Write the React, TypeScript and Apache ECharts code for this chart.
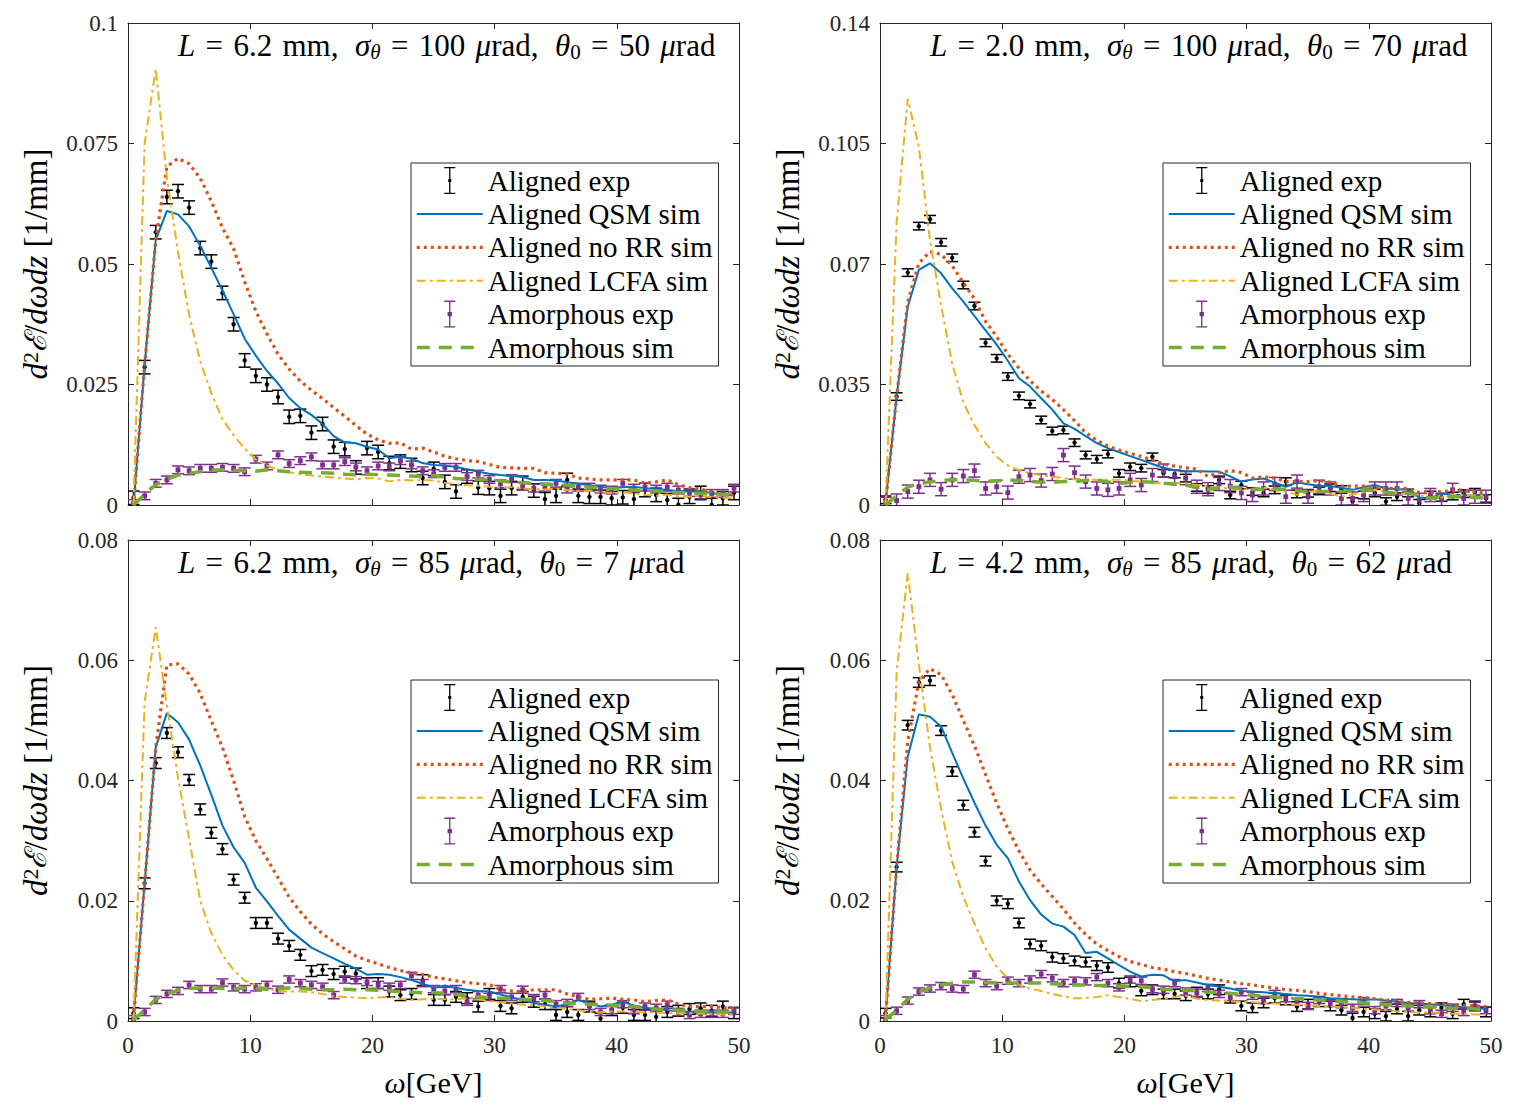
import React, { useEffect, useRef } from 'react';
import * as echarts from 'echarts';

// photon energy bin centres (GeV), shared by every series
const OMEGA = [
  0.45, 1.36, 2.27, 3.18, 4.09, 5.0, 5.91, 6.82, 7.73, 8.64,
  9.55, 10.46, 11.37, 12.28, 13.19, 14.1, 15.01, 15.92, 16.83, 17.74,
  18.65, 19.56, 20.47, 21.38, 22.29, 23.2, 24.11, 25.02, 25.93, 26.84,
  27.75, 28.66, 29.57, 30.48, 31.39, 32.3, 33.21, 34.12, 35.03, 35.94,
  36.85, 37.76, 38.67, 39.58, 40.49, 41.4, 42.31, 43.22, 44.13, 45.04,
  45.95, 46.86, 47.77, 48.68, 49.59,
];

const SERIES_NAMES = ['Aligned exp', 'Aligned QSM sim', 'Aligned no RR sim', 'Aligned LCFA sim', 'Amorphous exp', 'Amorphous sim'];
const X_TICKS = [0, 10, 20, 30, 40, 50];

// ---------- panel 1 (top left) ----------
const P1_ALIGNED_EXP = [
  0.0015, 0.0286, 0.0566, 0.0639, 0.0651, 0.0617, 0.0533, 0.0505, 0.0440, 0.0375,
  0.0300, 0.0268, 0.0250, 0.0224, 0.0183, 0.0185, 0.0150, 0.0168, 0.0121, 0.0116,
  0.0078, 0.0118, 0.0110, 0.0087, 0.0090, 0.0083, 0.0056, 0.0075, 0.0048, 0.0028,
  0.0059, 0.0036, 0.0035, 0.0019, 0.0035, 0.0046, 0.0030, 0.0012, 0.0019, 0.0052,
  0.0019, 0.0017, 0.0017, 0.0014, 0.0016, 0.0012, 0.0031, 0.0021, 0.0010, 0.0000,
  0.0017, 0.0025, 0.0000, 0.0014, 0.0025,
];
const P1_AMORPH_EXP = [
  0.0003, 0.0019, 0.0045, 0.0052, 0.0073, 0.0071, 0.0076, 0.0076, 0.0078, 0.0076,
  0.0069, 0.0095, 0.0081, 0.0104, 0.0086, 0.0092, 0.0100, 0.0083, 0.0083, 0.0090,
  0.0079, 0.0071, 0.0081, 0.0079, 0.0092, 0.0083, 0.0071, 0.0065, 0.0078, 0.0078,
  0.0059, 0.0064, 0.0053, 0.0044, 0.0055, 0.0039, 0.0035, 0.0037, 0.0045, 0.0033,
  0.0037, 0.0037, 0.0033, 0.0031, 0.0045, 0.0035, 0.0037, 0.0033, 0.0037, 0.0031,
  0.0026, 0.0021, 0.0024, 0.0024, 0.0035,
];
const P1_QSM = [
  0.0000, 0.0290, 0.0550, 0.0610, 0.0603, 0.0578, 0.0538, 0.0492, 0.0445, 0.0396,
  0.0345, 0.0310, 0.0278, 0.0252, 0.0222, 0.0201, 0.0187, 0.0168, 0.0143, 0.0130,
  0.0128, 0.0121, 0.0115, 0.0097, 0.0100, 0.0096, 0.0087, 0.0083, 0.0082, 0.0079,
  0.0074, 0.0069, 0.0065, 0.0062, 0.0060, 0.0058, 0.0052, 0.0052, 0.0051, 0.0047,
  0.0044, 0.0041, 0.0038, 0.0035, 0.0037, 0.0038, 0.0035, 0.0033, 0.0031, 0.0029,
  0.0028, 0.0028, 0.0025, 0.0021, 0.0021,
];
const P1_NO_RR = [
  0.0000, 0.0290, 0.0550, 0.0702, 0.0719, 0.0708, 0.0678, 0.0630, 0.0575, 0.0532,
  0.0463, 0.0402, 0.0355, 0.0313, 0.0282, 0.0257, 0.0238, 0.0221, 0.0202, 0.0184,
  0.0165, 0.0147, 0.0135, 0.0128, 0.0129, 0.0116, 0.0118, 0.0110, 0.0101, 0.0096,
  0.0092, 0.0090, 0.0084, 0.0078, 0.0077, 0.0076, 0.0076, 0.0067, 0.0066, 0.0064,
  0.0056, 0.0054, 0.0052, 0.0052, 0.0052, 0.0052, 0.0045, 0.0048, 0.0052, 0.0042,
  0.0036, 0.0033, 0.0027, 0.0021, 0.0021,
];
const P1_LCFA = [
  0.0000, 0.0750, 0.0905, 0.0680, 0.0525, 0.0395, 0.0298, 0.0232, 0.0178, 0.0145,
  0.0117, 0.0094, 0.0082, 0.0073, 0.0068, 0.0064, 0.0061, 0.0059, 0.0057, 0.0055,
  0.0053, 0.0056, 0.0055, 0.0049, 0.0052, 0.0051, 0.0052, 0.0051, 0.0046, 0.0043,
  0.0041, 0.0040, 0.0038, 0.0036, 0.0037, 0.0034, 0.0033, 0.0032, 0.0034, 0.0031,
  0.0029, 0.0030, 0.0027, 0.0025, 0.0026, 0.0024, 0.0021, 0.0019, 0.0022, 0.0018,
  0.0017, 0.0019, 0.0016, 0.0015, 0.0014,
];
const P1_AMORPH_SIM = [
  0.0000, 0.0022, 0.0042, 0.0053, 0.0062, 0.0066, 0.0069, 0.0072, 0.0073, 0.0072,
  0.0071, 0.0070, 0.0073, 0.0071, 0.0069, 0.0068, 0.0067, 0.0067, 0.0066, 0.0064,
  0.0063, 0.0064, 0.0063, 0.0062, 0.0061, 0.0060, 0.0059, 0.0061, 0.0058, 0.0055,
  0.0054, 0.0053, 0.0052, 0.0050, 0.0048, 0.0046, 0.0045, 0.0043, 0.0042, 0.0041,
  0.0039, 0.0037, 0.0035, 0.0034, 0.0032, 0.0031, 0.0030, 0.0029, 0.0028, 0.0026,
  0.0025, 0.0024, 0.0023, 0.0022, 0.0021,
];

// ---------- panel 2 (top right) ----------
const P2_ALIGNED_EXP = [
  0.0015, 0.0315, 0.0675, 0.0810, 0.0830, 0.0763, 0.0718, 0.0639, 0.0578, 0.0471,
  0.0426, 0.0373, 0.0317, 0.0293, 0.0247, 0.0215, 0.0218, 0.0181, 0.0145, 0.0133,
  0.0148, 0.0092, 0.0111, 0.0107, 0.0140, 0.0092, 0.0090, 0.0078, 0.0051, 0.0045,
  0.0073, 0.0029, 0.0058, 0.0039, 0.0035, 0.0044, 0.0068, 0.0032, 0.0034, 0.0041,
  0.0050, 0.0045, 0.0010, 0.0029, 0.0035, 0.0010, 0.0024, 0.0035, 0.0005, 0.0029,
  0.0022, 0.0026, 0.0033, 0.0037, 0.0019,
];
const P2_AMORPH_EXP = [
  0.0003, 0.0013, 0.0039, 0.0053, 0.0073, 0.0046, 0.0073, 0.0084, 0.0100, 0.0048,
  0.0053, 0.0036, 0.0082, 0.0087, 0.0071, 0.0090, 0.0145, 0.0094, 0.0068, 0.0048,
  0.0044, 0.0048, 0.0073, 0.0058, 0.0087, 0.0100, 0.0082, 0.0078, 0.0053, 0.0046,
  0.0061, 0.0055, 0.0035, 0.0029, 0.0048, 0.0061, 0.0024, 0.0068, 0.0024, 0.0053,
  0.0048, 0.0019, 0.0019, 0.0029, 0.0048, 0.0048, 0.0048, 0.0019, 0.0015, 0.0029,
  0.0015, 0.0044, 0.0019, 0.0024, 0.0024,
];
const P2_QSM = [
  0.0005, 0.0315, 0.0576, 0.0683, 0.0702, 0.0673, 0.0629, 0.0591, 0.0549, 0.0507,
  0.0466, 0.0419, 0.0368, 0.0344, 0.0310, 0.0277, 0.0237, 0.0221, 0.0200, 0.0180,
  0.0165, 0.0154, 0.0142, 0.0131, 0.0119, 0.0108, 0.0101, 0.0098, 0.0098, 0.0097,
  0.0097, 0.0083, 0.0068, 0.0074, 0.0077, 0.0065, 0.0053, 0.0066, 0.0060, 0.0056,
  0.0055, 0.0050, 0.0044, 0.0052, 0.0058, 0.0048, 0.0046, 0.0044, 0.0022, 0.0019,
  0.0034, 0.0030, 0.0029, 0.0029, 0.0029,
];
const P2_NO_RR = [
  0.0005, 0.0315, 0.0590, 0.0702, 0.0736, 0.0728, 0.0695, 0.0645, 0.0600, 0.0533,
  0.0489, 0.0438, 0.0397, 0.0361, 0.0331, 0.0307, 0.0277, 0.0245, 0.0210, 0.0188,
  0.0171, 0.0160, 0.0150, 0.0141, 0.0130, 0.0119, 0.0113, 0.0108, 0.0104, 0.0083,
  0.0094, 0.0100, 0.0094, 0.0078, 0.0082, 0.0078, 0.0068, 0.0068, 0.0068, 0.0071,
  0.0066, 0.0055, 0.0055, 0.0055, 0.0052, 0.0048, 0.0048, 0.0048, 0.0036, 0.0036,
  0.0039, 0.0042, 0.0044, 0.0038, 0.0034,
];
const P2_LCFA = [
  0.0000, 0.0820, 0.1180, 0.1040, 0.0770, 0.0580, 0.0410, 0.0298, 0.0232, 0.0180,
  0.0140, 0.0115, 0.0101, 0.0092, 0.0086, 0.0082, 0.0078, 0.0075, 0.0073, 0.0073,
  0.0073, 0.0073, 0.0071, 0.0067, 0.0064, 0.0063, 0.0063, 0.0063, 0.0058, 0.0054,
  0.0051, 0.0047, 0.0044, 0.0047, 0.0050, 0.0045, 0.0039, 0.0030, 0.0037, 0.0043,
  0.0033, 0.0024, 0.0031, 0.0037, 0.0044, 0.0039, 0.0034, 0.0031, 0.0029, 0.0018,
  0.0022, 0.0029, 0.0029, 0.0028, 0.0027,
];
const P2_AMORPH_SIM = [
  0.0000, 0.0027, 0.0052, 0.0062, 0.0067, 0.0071, 0.0073, 0.0073, 0.0072, 0.0069,
  0.0070, 0.0072, 0.0072, 0.0069, 0.0066, 0.0066, 0.0068, 0.0068, 0.0071, 0.0073,
  0.0067, 0.0063, 0.0065, 0.0068, 0.0066, 0.0063, 0.0060, 0.0058, 0.0050, 0.0045,
  0.0050, 0.0053, 0.0048, 0.0044, 0.0046, 0.0048, 0.0045, 0.0041, 0.0039, 0.0039,
  0.0039, 0.0039, 0.0041, 0.0044, 0.0041, 0.0037, 0.0034, 0.0034, 0.0027, 0.0020,
  0.0023, 0.0024, 0.0024, 0.0022, 0.0020,
];

// ---------- panel 3 (bottom left) ----------
const P3_ALIGNED_EXP = [
  0.0013, 0.0229, 0.0429, 0.0479, 0.0447, 0.0401, 0.0352, 0.0313, 0.0286, 0.0235,
  0.0205, 0.0163, 0.0163, 0.0137, 0.0125, 0.0110, 0.0083, 0.0085, 0.0078, 0.0082,
  0.0079, 0.0063, 0.0063, 0.0049, 0.0043, 0.0045, 0.0068, 0.0035, 0.0035, 0.0040,
  0.0038, 0.0024, 0.0045, 0.0025, 0.0021, 0.0040, 0.0032, 0.0028, 0.0010, 0.0015,
  0.0010, 0.0024, 0.0004, 0.0018, 0.0022, 0.0010, 0.0010, 0.0007, 0.0015, 0.0017,
  0.0020, 0.0021, 0.0017, 0.0024, 0.0013,
];
const P3_AMORPH_EXP = [
  0.0003, 0.0015, 0.0035, 0.0045, 0.0050, 0.0060, 0.0053, 0.0053, 0.0064, 0.0056,
  0.0053, 0.0056, 0.0060, 0.0052, 0.0069, 0.0063, 0.0060, 0.0057, 0.0043, 0.0069,
  0.0068, 0.0065, 0.0060, 0.0057, 0.0060, 0.0075, 0.0063, 0.0053, 0.0050, 0.0053,
  0.0032, 0.0043, 0.0040, 0.0053, 0.0040, 0.0052, 0.0038, 0.0043, 0.0028, 0.0030,
  0.0040, 0.0025, 0.0015, 0.0018, 0.0028, 0.0018, 0.0024, 0.0022, 0.0027, 0.0015,
  0.0010, 0.0012, 0.0012, 0.0012, 0.0017,
];
const P3_QSM = [
  0.0005, 0.0229, 0.0455, 0.0512, 0.0497, 0.0468, 0.0425, 0.0376, 0.0325, 0.0289,
  0.0263, 0.0222, 0.0199, 0.0175, 0.0152, 0.0137, 0.0122, 0.0113, 0.0104, 0.0095,
  0.0087, 0.0077, 0.0078, 0.0077, 0.0073, 0.0068, 0.0062, 0.0055, 0.0059, 0.0055,
  0.0052, 0.0050, 0.0049, 0.0044, 0.0039, 0.0035, 0.0030, 0.0027, 0.0024, 0.0028,
  0.0035, 0.0029, 0.0024, 0.0027, 0.0032, 0.0026, 0.0022, 0.0020, 0.0018, 0.0016,
  0.0014, 0.0014, 0.0014, 0.0014, 0.0014,
];
const P3_NO_RR = [
  0.0005, 0.0229, 0.0455, 0.0592, 0.0594, 0.0577, 0.0545, 0.0499, 0.0455, 0.0400,
  0.0340, 0.0300, 0.0270, 0.0238, 0.0206, 0.0182, 0.0161, 0.0145, 0.0132, 0.0120,
  0.0108, 0.0101, 0.0095, 0.0089, 0.0084, 0.0080, 0.0077, 0.0073, 0.0070, 0.0067,
  0.0064, 0.0062, 0.0061, 0.0052, 0.0050, 0.0049, 0.0052, 0.0052, 0.0052, 0.0045,
  0.0040, 0.0036, 0.0037, 0.0038, 0.0036, 0.0035, 0.0032, 0.0034, 0.0035, 0.0028,
  0.0024, 0.0024, 0.0024, 0.0022, 0.0021,
];
const P3_LCFA = [
  0.0000, 0.0530, 0.0655, 0.0525, 0.0405, 0.0303, 0.0200, 0.0146, 0.0110, 0.0085,
  0.0067, 0.0060, 0.0054, 0.0050, 0.0049, 0.0049, 0.0048, 0.0045, 0.0041, 0.0040,
  0.0039, 0.0038, 0.0039, 0.0040, 0.0037, 0.0035, 0.0036, 0.0037, 0.0036, 0.0036,
  0.0038, 0.0036, 0.0033, 0.0031, 0.0029, 0.0027, 0.0026, 0.0024, 0.0022, 0.0020,
  0.0018, 0.0015, 0.0014, 0.0016, 0.0016, 0.0015, 0.0014, 0.0014, 0.0013, 0.0013,
  0.0013, 0.0012, 0.0012, 0.0011, 0.0011,
];
const P3_AMORPH_SIM = [
  0.0002, 0.0018, 0.0036, 0.0045, 0.0051, 0.0054, 0.0055, 0.0055, 0.0054, 0.0054,
  0.0055, 0.0054, 0.0053, 0.0054, 0.0055, 0.0054, 0.0053, 0.0052, 0.0052, 0.0053,
  0.0052, 0.0052, 0.0051, 0.0050, 0.0049, 0.0048, 0.0047, 0.0047, 0.0046, 0.0044,
  0.0041, 0.0040, 0.0039, 0.0038, 0.0037, 0.0036, 0.0035, 0.0034, 0.0032, 0.0030,
  0.0029, 0.0028, 0.0027, 0.0026, 0.0025, 0.0024, 0.0022, 0.0020, 0.0019, 0.0018,
  0.0017, 0.0016, 0.0016, 0.0015, 0.0015,
];

// ---------- panel 4 (bottom right) ----------
const P4_ALIGNED_EXP = [
  0.0013, 0.0256, 0.0492, 0.0563, 0.0566, 0.0483, 0.0415, 0.0359, 0.0314, 0.0266,
  0.0200, 0.0195, 0.0163, 0.0128, 0.0125, 0.0106, 0.0104, 0.0100, 0.0098, 0.0092,
  0.0089, 0.0063, 0.0065, 0.0050, 0.0052, 0.0045, 0.0045, 0.0042, 0.0048, 0.0045,
  0.0052, 0.0038, 0.0025, 0.0022, 0.0030, 0.0038, 0.0035, 0.0024, 0.0028, 0.0032,
  0.0025, 0.0018, 0.0005, 0.0015, 0.0012, 0.0008, 0.0020, 0.0008, 0.0018, 0.0015,
  0.0022, 0.0012, 0.0028, 0.0025, 0.0015,
];
const P4_AMORPH_EXP = [
  0.0003, 0.0017, 0.0034, 0.0049, 0.0054, 0.0058, 0.0054, 0.0053, 0.0077, 0.0063,
  0.0058, 0.0067, 0.0063, 0.0069, 0.0078, 0.0071, 0.0063, 0.0067, 0.0066, 0.0073,
  0.0063, 0.0056, 0.0069, 0.0067, 0.0053, 0.0052, 0.0063, 0.0049, 0.0047, 0.0055,
  0.0045, 0.0040, 0.0048, 0.0042, 0.0035, 0.0045, 0.0038, 0.0032, 0.0025, 0.0035,
  0.0030, 0.0028, 0.0022, 0.0033, 0.0018, 0.0025, 0.0030, 0.0022, 0.0028, 0.0018,
  0.0012, 0.0022, 0.0015, 0.0025, 0.0018,
];
const P4_QSM = [
  0.0005, 0.0256, 0.0440, 0.0510, 0.0506, 0.0490, 0.0446, 0.0403, 0.0363, 0.0325,
  0.0293, 0.0271, 0.0232, 0.0201, 0.0177, 0.0162, 0.0157, 0.0143, 0.0113, 0.0115,
  0.0104, 0.0093, 0.0082, 0.0074, 0.0077, 0.0076, 0.0066, 0.0068, 0.0064, 0.0060,
  0.0057, 0.0054, 0.0050, 0.0049, 0.0048, 0.0046, 0.0045, 0.0043, 0.0042, 0.0040,
  0.0038, 0.0037, 0.0036, 0.0035, 0.0036, 0.0034, 0.0032, 0.0030, 0.0029, 0.0028,
  0.0026, 0.0025, 0.0023, 0.0022, 0.0020,
];
const P4_NO_RR = [
  0.0005, 0.0256, 0.0465, 0.0565, 0.0586, 0.0576, 0.0543, 0.0500, 0.0458, 0.0410,
  0.0362, 0.0320, 0.0283, 0.0251, 0.0228, 0.0207, 0.0186, 0.0163, 0.0144, 0.0128,
  0.0117, 0.0107, 0.0099, 0.0094, 0.0089, 0.0086, 0.0082, 0.0079, 0.0075, 0.0071,
  0.0068, 0.0065, 0.0062, 0.0060, 0.0057, 0.0055, 0.0052, 0.0051, 0.0049, 0.0046,
  0.0044, 0.0042, 0.0040, 0.0039, 0.0037, 0.0035, 0.0033, 0.0031, 0.0030, 0.0029,
  0.0028, 0.0027, 0.0026, 0.0025, 0.0024,
];
const P4_LCFA = [
  0.0000, 0.0580, 0.0745, 0.0593, 0.0455, 0.0353, 0.0265, 0.0206, 0.0162, 0.0121,
  0.0090, 0.0071, 0.0060, 0.0054, 0.0050, 0.0045, 0.0041, 0.0038, 0.0038, 0.0040,
  0.0043, 0.0040, 0.0037, 0.0033, 0.0035, 0.0037, 0.0040, 0.0042, 0.0037, 0.0035,
  0.0034, 0.0033, 0.0032, 0.0031, 0.0030, 0.0029, 0.0028, 0.0027, 0.0026, 0.0025,
  0.0024, 0.0023, 0.0022, 0.0020, 0.0019, 0.0018, 0.0016, 0.0015, 0.0014, 0.0014,
  0.0013, 0.0012, 0.0012, 0.0011, 0.0011,
];
const P4_AMORPH_SIM = [
  0.0002, 0.0018, 0.0036, 0.0048, 0.0055, 0.0060, 0.0063, 0.0065, 0.0065, 0.0064,
  0.0063, 0.0063, 0.0063, 0.0063, 0.0063, 0.0062, 0.0061, 0.0060, 0.0060, 0.0059,
  0.0059, 0.0058, 0.0058, 0.0057, 0.0055, 0.0053, 0.0052, 0.0051, 0.0050, 0.0048,
  0.0047, 0.0046, 0.0044, 0.0043, 0.0041, 0.0040, 0.0038, 0.0037, 0.0036, 0.0035,
  0.0033, 0.0032, 0.0031, 0.0030, 0.0029, 0.0027, 0.0026, 0.0025, 0.0024, 0.0023,
  0.0022, 0.0021, 0.0021, 0.0020, 0.0019,
];

// panel parameters (titles, axis ranges, error half-widths)
const PANEL_L = ['6.2', '2.0', '6.2', '4.2'];
const PANEL_SIGMA = ['100', '100', '85', '85'];
const PANEL_THETA0 = ['50', '70', '7', '62'];
const PANEL_YMAX = [0.1, 0.14, 0.08, 0.08];
const PANEL_YSTEP = [0.025, 0.035, 0.02, 0.02];
const ALIGNED_ERR = [0.0014, 0.0011, 0.0009, 0.0008];
const AMORPH_ERR = [0.0008, 0.0019, 0.0006, 0.0006];

const PANEL_DATA = [
  { alignedExp: P1_ALIGNED_EXP, qsm: P1_QSM, noRR: P1_NO_RR, lcfa: P1_LCFA, amorphExp: P1_AMORPH_EXP, amorphSim: P1_AMORPH_SIM },
  { alignedExp: P2_ALIGNED_EXP, qsm: P2_QSM, noRR: P2_NO_RR, lcfa: P2_LCFA, amorphExp: P2_AMORPH_EXP, amorphSim: P2_AMORPH_SIM },
  { alignedExp: P3_ALIGNED_EXP, qsm: P3_QSM, noRR: P3_NO_RR, lcfa: P3_LCFA, amorphExp: P3_AMORPH_EXP, amorphSim: P3_AMORPH_SIM },
  { alignedExp: P4_ALIGNED_EXP, qsm: P4_QSM, noRR: P4_NO_RR, lcfa: P4_LCFA, amorphExp: P4_AMORPH_EXP, amorphSim: P4_AMORPH_SIM },
];

// ---------- layout & style ----------
const FONT = '"Liberation Serif", "Times New Roman", serif';
const AXIS_COLOR = '#262626';
const C_BLACK = '#000000';
const C_QSM = '#0072BD';
const C_NORR = '#D95319';
const C_LCFA = '#EDB120';
const C_AMEXP = '#7E2F8E';
const C_AMSIM = '#77AC30';
const PLOT_W = 611;
const LAYOUT = [
  { left: 128, top: 23, height: 482, xLabels: false },
  { left: 880, top: 23, height: 482, xLabels: false },
  { left: 128, top: 540, height: 481, xLabels: true },
  { left: 880, top: 540, height: 481, xLabels: true },
];

const ICON_DOT = 'path://M0,0H11V1.3H0Z M4.85,0H6.15V27H4.85Z M0,25.7H11V27H0Z M4,12H7V15H4Z';
const ICON_SQ = 'path://M0,0H11V1.3H0Z M4.85,0H6.15V27H4.85Z M0,25.7H11V27H0Z M3.3,11.3H7.7V15.7H3.3Z';

// spacing helpers for the LaTeX-like titles
const EQ = ' \u200A=\u200A ';
const UNIT = ' \u200A';
const COMMA = ', \u2009\u200A';

function errorBarSeries(name: string, vals: number[], err: number, color: string, square: boolean, idx: number) {
  return {
    type: 'custom',
    name,
    xAxisIndex: idx,
    yAxisIndex: idx,
    clip: true,
    silent: true,
    itemStyle: { color },
    encode: { x: 0, y: 1 },
    data: OMEGA.map((x, i) => [x, vals[i], err]),
    renderItem: (params: any, api: any) => {
      const x = api.value(0);
      const y = api.value(1);
      const e = api.value(2);
      const c = api.coord([x, y]);
      const t = api.coord([x, y + e]);
      const b = api.coord([x, y - e]);
      const hw = 6;
      const st = { stroke: color, lineWidth: 1.5, fill: 'none' };
      const marker = square
        ? { type: 'rect', shape: { x: c[0] - 2.4, y: c[1] - 2.4, width: 4.8, height: 4.8 }, style: { fill: color } }
        : { type: 'circle', shape: { cx: c[0], cy: c[1], r: 2.2 }, style: { fill: color } };
      return {
        type: 'group',
        children: [
          { type: 'line', shape: { x1: c[0], y1: t[1], x2: c[0], y2: b[1] }, style: st },
          { type: 'line', shape: { x1: c[0] - hw, y1: t[1], x2: c[0] + hw, y2: t[1] }, style: st },
          { type: 'line', shape: { x1: c[0] - hw, y1: b[1], x2: c[0] + hw, y2: b[1] }, style: st },
          marker,
        ],
      };
    },
  };
}

function lineSeries(name: string, vals: number[], color: string, width: number, type: any, idx: number) {
  return {
    type: 'line',
    name,
    xAxisIndex: idx,
    yAxisIndex: idx,
    data: OMEGA.map((x, i) => [x, vals[i]]),
    symbol: 'none',
    showSymbol: false,
    silent: true,
    clip: true,
    itemStyle: { color },
    lineStyle: { color, width, type, cap: 'butt' },
  };
}

const TEXT_RICH = {
  i: { fontFamily: FONT, fontSize: 31, fontStyle: 'italic', fill: '#000', lineHeight: 34 },
  si: { fontFamily: FONT, fontSize: 21, fontStyle: 'italic', fill: '#000', lineHeight: 20, verticalAlign: 'bottom' },
  s: { fontFamily: FONT, fontSize: 21, fill: '#000', lineHeight: 20, verticalAlign: 'bottom' },
};

function buildOption() {
  const grid: any[] = [];
  const xAxis: any[] = [];
  const yAxis: any[] = [];
  const series: any[] = [];
  const legend: any[] = [];
  const graphic: any[] = [];

  const tickStyle = { inside: true, length: 6, lineStyle: { color: AXIS_COLOR, width: 1 } };
  const lineStyleAx = { show: true, onZero: false, lineStyle: { color: AXIS_COLOR, width: 1 } };
  const labelStyle = { fontFamily: FONT, fontSize: 23, color: AXIS_COLOR };

  LAYOUT.forEach((lay, p) => {
    grid.push({ left: lay.left, top: lay.top, width: PLOT_W, height: lay.height, show: false, containLabel: false });
    const yMax = PANEL_YMAX[p];
    const yStep = PANEL_YSTEP[p];
    xAxis[p] = {
      type: 'value', gridIndex: p, position: 'bottom', min: 0, max: 50, interval: 10,
      axisLine: lineStyleAx, axisTick: tickStyle, splitLine: { show: false },
      axisLabel: { show: lay.xLabels, margin: 13, ...labelStyle, formatter: (v: number) => (X_TICKS.includes(v) ? String(v) : '') },
      name: lay.xLabels ? '{i|ω}[GeV]' : '',
      nameLocation: 'middle', nameGap: 46,
      nameTextStyle: { fontFamily: FONT, fontSize: 30, color: '#000', rich: { i: { fontFamily: FONT, fontSize: 30, fontStyle: 'italic', color: '#000' } } },
    };
    xAxis[p + 4] = {
      type: 'value', gridIndex: p, position: 'top', min: 0, max: 50, interval: 10,
      axisLine: lineStyleAx, axisTick: tickStyle, splitLine: { show: false }, axisLabel: { show: false },
    };
    yAxis[p] = {
      type: 'value', gridIndex: p, position: 'left', min: 0, max: yMax, interval: yStep,
      axisLine: lineStyleAx, axisTick: tickStyle, splitLine: { show: false },
      axisLabel: { margin: 10, ...labelStyle, formatter: (v: number) => String(+v.toFixed(4)) },
      name: '{i|d}{sup|2}{e|ℰ}{n|/}{i|dωdz} {n|[1/mm]}',
      nameLocation: 'middle', nameGap: 76, nameRotate: 90,
      nameTextStyle: {
        fontFamily: FONT, fontSize: 33, color: '#000',
        rich: {
          i: { fontFamily: FONT, fontSize: 33, fontStyle: 'italic', color: '#000' },
          n: { fontFamily: FONT, fontSize: 33, color: '#000' },
          e: { fontFamily: '"DejaVu Serif", serif', fontSize: 30, fontStyle: 'italic', color: '#000' },
          sup: { fontFamily: FONT, fontSize: 22, color: '#000', verticalAlign: 'top', lineHeight: 15 },
        },
      },
    };
    yAxis[p + 4] = {
      type: 'value', gridIndex: p, position: 'right', min: 0, max: yMax, interval: yStep,
      axisLine: lineStyleAx, axisTick: tickStyle, splitLine: { show: false }, axisLabel: { show: false },
    };

    const d = PANEL_DATA[p];
    series.push(errorBarSeries(SERIES_NAMES[0], d.alignedExp, ALIGNED_ERR[p], C_BLACK, false, p));
    series.push(lineSeries(SERIES_NAMES[1], d.qsm, C_QSM, 2, 'solid', p));
    series.push(lineSeries(SERIES_NAMES[2], d.noRR, C_NORR, 3.2, [3, 4], p));
    series.push(lineSeries(SERIES_NAMES[3], d.lcfa, C_LCFA, 2, [9, 4, 3, 4], p));
    series.push(errorBarSeries(SERIES_NAMES[4], d.amorphExp, AMORPH_ERR[p], C_AMEXP, true, p));
    series.push(lineSeries(SERIES_NAMES[5], d.amorphSim, C_AMSIM, 3.5, [13, 9], p));

    legend.push({
      show: true,
      orient: 'vertical',
      left: lay.left + 283,
      top: lay.top + 140,
      itemWidth: 66,
      itemHeight: 27,
      itemGap: 4.4,
      padding: [3, 6, 4, 4],
      backgroundColor: '#ffffff',
      borderColor: AXIS_COLOR,
      borderWidth: 1,
      borderRadius: 0,
      selectedMode: false,
      symbolKeepAspect: true,
      itemStyle: { opacity: 0 },
      textStyle: { fontFamily: FONT, fontSize: 29, lineHeight: 27, color: '#000', width: 224 },
      lineStyle: { width: 'inherit', type: 'inherit' },
      data: [
        { name: SERIES_NAMES[0], icon: ICON_DOT, itemStyle: { opacity: 1 } },
        { name: SERIES_NAMES[1] },
        { name: SERIES_NAMES[2] },
        { name: SERIES_NAMES[3] },
        { name: SERIES_NAMES[4], icon: ICON_SQ, itemStyle: { opacity: 1 } },
        { name: SERIES_NAMES[5] },
      ],
    });

    graphic.push({
      type: 'text',
      x: lay.left + 50,
      y: lay.top + 22,
      z: 100,
      style: {
        text: `{i|L}${EQ}${PANEL_L[p]}${UNIT}mm${COMMA}{i|σ}{si|θ}${EQ}${PANEL_SIGMA[p]}${UNIT}{i|μ}rad${COMMA}{i|θ}{s|0}${EQ}${PANEL_THETA0[p]}${UNIT}{i|μ}rad`,
        rich: TEXT_RICH,
        fontFamily: FONT,
        fontSize: 31,
        lineHeight: 34,
        fill: '#000',
        align: 'left',
        verticalAlign: 'middle',
      },
    });
  });

  return {
    animation: false,
    backgroundColor: '#ffffff',
    grid,
    xAxis,
    yAxis,
    series,
    legend,
    graphic,
  };
}

export default function App() {
  const ref = useRef<HTMLDivElement>(null);
  useEffect(() => {
    if (!ref.current) return;
    const chart = echarts.init(ref.current, undefined, { renderer: 'svg' });
    chart.setOption(buildOption() as any);
    return () => chart.dispose();
  }, []);
  return (
    <div
      ref={ref}
      style={{ position: 'fixed', left: 0, top: 0, width: 1513, height: 1109, background: '#ffffff' }}
    />
  );
}
